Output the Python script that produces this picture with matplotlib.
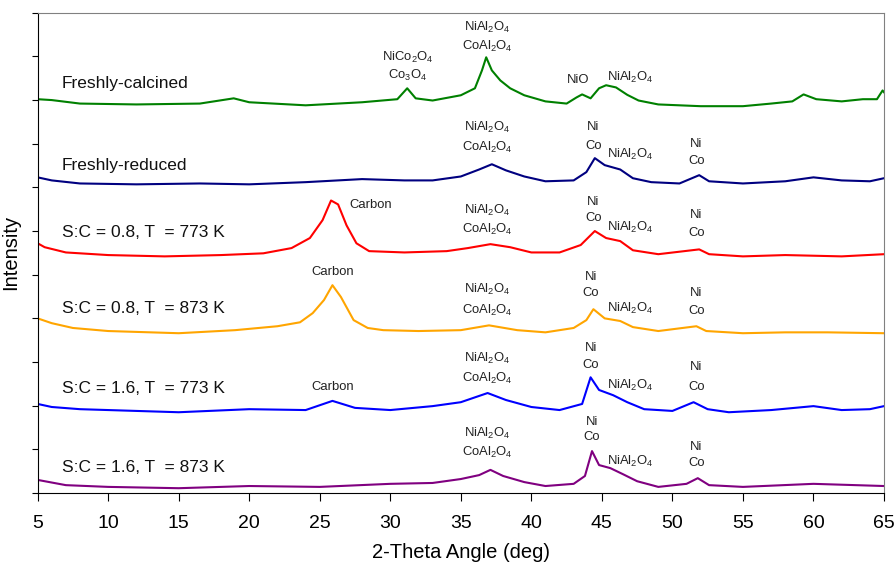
import matplotlib
matplotlib.use("Agg")
import matplotlib.pyplot as plt

plt.rcParams["font.family"] = ["Liberation Sans", "DejaVu Sans"]
plt.rcParams["mathtext.fontset"] = "custom"
plt.rcParams["mathtext.rm"] = "Liberation Sans"
plt.rcParams["mathtext.it"] = "Liberation Sans"

# XRD patterns (2-theta in deg, stacked intensity in a.u.)
calcined_x = [5, 6, 8, 12, 16.5, 18.9, 20, 24, 28, 30.5, 31.2, 31.8, 33, 35, 36.0, 36.5, 36.8,
              37.2, 37.8, 38.5, 39.5, 41, 42.5, 43.2, 43.6, 44.2, 44.8, 45.3, 46.0, 46.8, 47.6,
              49, 52, 55, 57, 58.5, 59.3, 60.2, 62, 63.5, 64.5, 64.9, 65]
calcined_y = [9.02, 9.00, 8.92, 8.90, 8.92, 9.04, 8.95, 8.88, 8.95, 9.02, 9.27, 9.04, 8.99, 9.11,
              9.27, 9.68, 9.98, 9.68, 9.45, 9.27, 9.11, 8.97, 8.92, 9.06, 9.13, 9.04, 9.27, 9.34,
              9.29, 9.12, 8.99, 8.90, 8.86, 8.86, 8.92, 8.97, 9.13, 9.02, 8.97, 9.02, 9.02, 9.22, 9.18]

reduced_x = [5, 6, 8, 12, 16.5, 20, 24, 28, 31, 33, 35, 36.3, 37.2, 38.2, 39.5, 41, 43, 43.9,
             44.5, 45.2, 46.3, 47.2, 48.5, 50.5, 51.9, 52.6, 55, 58, 60, 62, 64, 65]
reduced_y = [7.23, 7.16, 7.09, 7.07, 7.09, 7.07, 7.12, 7.19, 7.16, 7.16, 7.25, 7.41, 7.53, 7.39,
             7.25, 7.14, 7.16, 7.35, 7.67, 7.51, 7.41, 7.21, 7.12, 7.09, 7.28, 7.14, 7.09, 7.14,
             7.23, 7.16, 7.14, 7.21]

sc08_773_x = [5, 5.5, 7, 10, 14, 18, 21, 23, 24.3, 25.2, 25.8, 26.3, 26.9, 27.6, 28.5, 31, 34,
              35.5, 37.1, 38.5, 40, 42, 43.5, 44.5, 45.3, 46.3, 47.2, 49, 51.9, 52.6, 55, 58, 62, 65]
sc08_773_y = [5.72, 5.63, 5.51, 5.45, 5.42, 5.45, 5.49, 5.61, 5.84, 6.25, 6.70, 6.61, 6.13, 5.72,
              5.54, 5.51, 5.54, 5.61, 5.70, 5.63, 5.51, 5.51, 5.68, 6.00, 5.84, 5.77, 5.56, 5.47,
              5.58, 5.47, 5.42, 5.45, 5.42, 5.47]

sc08_873_x = [5, 6, 7.5, 10, 15, 19, 22, 23.6, 24.5, 25.3, 25.9, 26.5, 27.4, 28.4, 29.5, 32, 35,
              37, 39, 41, 43, 43.9, 44.4, 45.2, 46.3, 47.2, 49, 51.7, 52.4, 55, 58, 61, 65]
sc08_873_y = [4.00, 3.89, 3.78, 3.71, 3.66, 3.73, 3.82, 3.91, 4.12, 4.42, 4.76, 4.49, 3.96, 3.78,
              3.73, 3.71, 3.73, 3.84, 3.73, 3.68, 3.78, 3.96, 4.21, 4.00, 3.94, 3.80, 3.71, 3.82,
              3.71, 3.66, 3.68, 3.68, 3.66]

sc16_773_x = [5, 6, 8, 10, 15, 20, 24, 25.9, 27.5, 30, 33, 35, 36.9, 38.2, 40, 42, 43.6, 44.2,
              44.8, 45.8, 46.8, 48, 50, 51.5, 52.5, 54, 57, 60, 62, 64, 65]
sc16_773_y = [2.04, 1.97, 1.92, 1.90, 1.85, 1.92, 1.90, 2.11, 1.95, 1.90, 1.99, 2.08, 2.29, 2.13,
              1.97, 1.90, 2.04, 2.65, 2.36, 2.24, 2.08, 1.92, 1.88, 2.08, 1.92, 1.85, 1.90, 1.99,
              1.90, 1.92, 1.99]

sc16_873_x = [5, 7, 10, 15, 20, 25, 30, 33, 35, 36.3, 37.1, 38, 39.5, 41, 43, 43.8, 44.3, 44.8,
              45.6, 46.5, 47.5, 49, 51.0, 51.8, 52.6, 55, 60, 65]
sc16_873_y = [0.30, 0.18, 0.14, 0.11, 0.16, 0.14, 0.21, 0.23, 0.32, 0.41, 0.53, 0.39, 0.25, 0.16,
              0.21, 0.39, 0.96, 0.64, 0.57, 0.43, 0.27, 0.14, 0.21, 0.34, 0.18, 0.14, 0.21, 0.16]

sample_names = ["Freshly-calcined", "Freshly-reduced", "S:C = 0.8, T  = 773 K",
                "S:C = 0.8, T  = 873 K", "S:C = 1.6, T  = 773 K", "S:C = 1.6, T  = 873 K"]
sample_colors = ["#008000", "#000080", "#ff0000", "#ffa500", "#0000ff", "#800080"]
name_y = [9.38, 7.51, 5.97, 4.23, 2.40, 0.59]

NIAL = "NiAl$_2$O$_4$"
COAL = "CoAl$_2$O$_4$"
# (2-theta, height, text) for the phase labels
peak_labels = [
    (36.9, 10.66, NIAL), (36.9, 10.23, COAL), (31.2, 9.98, "NiCo$_2$O$_4$"),
    (31.2, 9.57, "Co$_3$O$_4$"), (43.3, 9.45, "NiO"), (47.0, 9.52, NIAL),
    (36.9, 8.38, NIAL), (36.9, 7.92, COAL), (44.4, 8.38, "Ni"), (44.4, 7.94, "Co"),
    (47.0, 7.76, NIAL), (51.7, 7.99, "Ni"), (51.7, 7.60, "Co"),
    (28.6, 6.59, "Carbon"), (36.9, 6.48, NIAL), (36.9, 6.04, COAL), (44.4, 6.66, "Ni"),
    (44.4, 6.29, "Co"), (47.0, 6.09, NIAL), (51.7, 6.36, "Ni"), (51.7, 5.95, "Co"),
    (25.9, 5.06, "Carbon"), (36.9, 4.67, NIAL), (36.9, 4.19, COAL), (44.2, 4.94, "Ni"),
    (44.2, 4.58, "Co"), (47.0, 4.23, NIAL), (51.7, 4.58, "Ni"), (51.7, 4.16, "Co"),
    (25.9, 2.43, "Carbon"), (36.9, 3.09, NIAL), (36.9, 2.63, COAL), (44.2, 3.32, "Ni"),
    (44.2, 2.93, "Co"), (47.0, 2.47, NIAL), (51.7, 2.88, "Ni"), (51.7, 2.43, "Co"),
    (36.9, 1.37, NIAL), (36.9, 0.92, COAL), (44.3, 1.62, "Ni"), (44.3, 1.28, "Co"),
    (47.0, 0.73, NIAL), (51.7, 1.05, "Ni"), (51.7, 0.69, "Co"),
]

patterns = [(calcined_x, calcined_y), (reduced_x, reduced_y), (sc08_773_x, sc08_773_y),
            (sc08_873_x, sc08_873_y), (sc16_773_x, sc16_773_y), (sc16_873_x, sc16_873_y)]

fig = plt.figure(figsize=(8.96, 5.67), dpi=100)
ax = fig.add_axes([0.042, 0.1305, 0.9446, 0.847])

for (xs, ys), color, name, ny in zip(patterns, sample_colors, sample_names, name_y):
    ax.plot(xs, ys, color=color, lw=1.5)
    ax.text(6.7, ny, name, fontsize=12.5, ha="left", va="center", color="#111111")

for px, py, label in peak_labels:
    ax.text(px, py, label, fontsize=9.4, ha="center", va="center", color="#222222")

ax.set_xlim(5, 65)
ax.set_ylim(0, 11)
ax.set_xticks(range(5, 66, 5))
ax.set_yticks(range(0, 12))
ax.set_yticklabels([])
ax.tick_params(axis="x", direction="out", length=6, labelsize=14, pad=10)
ax.tick_params(axis="y", direction="out", length=4)
ax.set_xlabel("2-Theta Angle (deg)", fontsize=14.5, labelpad=8)
ax.set_ylabel("Intensity", fontsize=14.5, labelpad=5)

for side in ["top", "right"]:
    ax.spines[side].set_color("#808080")
for side in ["left", "bottom"]:
    ax.spines[side].set_color("black")

fig.savefig("out.png", dpi=100)
